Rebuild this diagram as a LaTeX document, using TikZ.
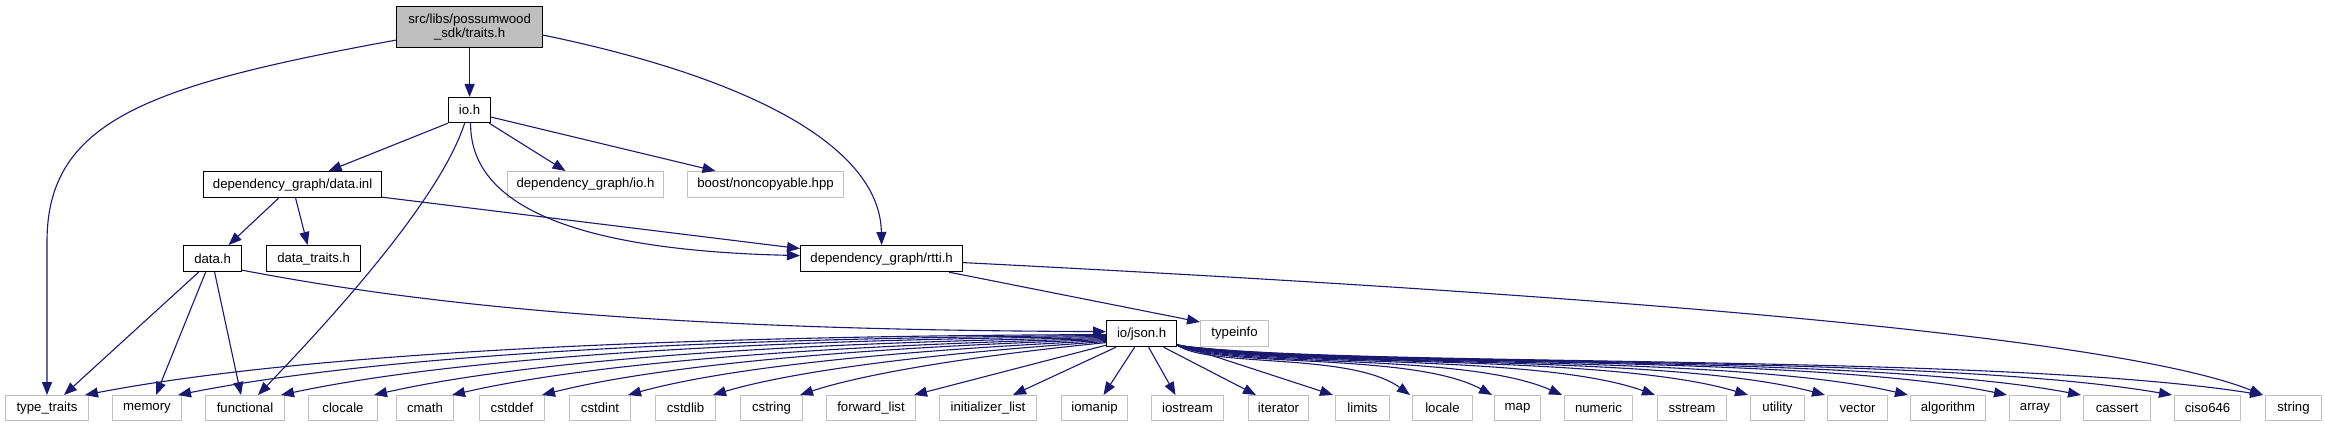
\documentclass[tikz,border=0pt]{standalone}
\usepackage{fontspec}
\setmainfont{Liberation Sans}
\usetikzlibrary{arrows.meta}
\definecolor{edgeblue}{HTML}{191970}
\definecolor{boxgray}{HTML}{BFBFBF}
\begin{document}
\begin{tikzpicture}[x=1pt,y=-1pt,
  base/.style={anchor=north west, inner sep=0pt, minimum height=26pt, font=\fontsize{13.2}{14.5}\selectfont, text=black, align=center},
  kbox/.style={base, draw=black, line width=1.2pt},
  gbox/.style={base, draw=boxgray, line width=1pt},
  bot/.style={gbox, minimum height=25pt},
  dep/.style={draw=edgeblue, line width=1.1pt, -{Triangle[length=13pt,width=10pt]}}]
\fill[white] (0,0) rectangle (2325,427);
\useasboundingbox (0,0) rectangle (2325,427);
% nodes
\node[kbox, fill=boxgray, minimum width=146pt, minimum height=41pt] (traits) at (396,6) {src/libs/possumwood\\\_sdk/traits.h};
\node[kbox, minimum width=42pt, minimum height=25pt] (io) at (448,97) {io.h};
\node[kbox, minimum width=178pt] (datainl) at (203,171) {dependency\_graph/data.inl};
\node[gbox, minimum width=156pt] (dgio) at (507,171) {dependency\_graph/io.h};
\node[gbox, minimum width=156pt] (boost) at (687,171) {boost/noncopyable.hpp};
\node[kbox, minimum width=58pt] (datah) at (183,245) {data.h};
\node[kbox, minimum width=94pt] (datatraits) at (266,245) {data\_traits.h};
\node[kbox, minimum width=162pt] (rtti) at (800,245) {dependency\_graph/rtti.h};
\node[kbox, minimum width=70pt] (json) at (1106,320) {io/json.h};
\node[gbox, minimum width=68pt] (typeinfo) at (1200,320) {typeinfo};
\node[bot, minimum width=83pt] (typetraits) at (5,395) {type\_traits};
\node[bot, minimum width=69pt] (memory) at (112,395) {memory};
\node[bot, minimum width=79pt] (functional) at (205,395) {functional};
\node[bot, minimum width=69pt] (clocale) at (308,395) {clocale};
\node[bot, minimum width=57pt] (cmath) at (396,395) {cmath};
\node[bot, minimum width=65pt] (cstddef) at (479,395) {cstddef};
\node[bot, minimum width=61pt] (cstdint) at (569,395) {cstdint};
\node[bot, minimum width=60pt] (cstdlib) at (655,395) {cstdlib};
\node[bot, minimum width=62pt] (cstring) at (740,395) {cstring};
\node[bot, minimum width=89pt] (forwardlist) at (826,395) {forward\_list};
\node[bot, minimum width=97pt] (initlist) at (939,395) {initializer\_list};
\node[bot, minimum width=66pt] (iomanip) at (1061,395) {iomanip};
\node[bot, minimum width=72pt] (iostream) at (1151,395) {iostream};
\node[bot, minimum width=60pt] (iterator) at (1248,395) {iterator};
\node[bot, minimum width=54pt] (limits) at (1335,395) {limits};
\node[bot, minimum width=60pt] (locale) at (1412,395) {locale};
\node[bot, minimum width=46pt] (map) at (1494,395) {map};
\node[bot, minimum width=68pt] (numeric) at (1564,395) {numeric};
\node[bot, minimum width=69pt] (sstream) at (1657,395) {sstream};
\node[bot, minimum width=54pt] (utility) at (1750,395) {utility};
\node[bot, minimum width=60pt] (vector) at (1827,395) {vector};
\node[bot, minimum width=75pt] (algorithm) at (1910,395) {algorithm};
\node[bot, minimum width=51pt] (array) at (2009,395) {array};
\node[bot, minimum width=67pt] (cassert) at (2083,395) {cassert};
\node[bot, minimum width=66pt] (ciso646) at (2174,395) {ciso646};
\node[bot, minimum width=56pt] (string) at (2265,395) {string};
% upper edges
\draw[dep] ([yshift=-13pt]traits.west) .. controls (150,85) and (48,120) .. (47,240) -- (typetraits.north);
\draw[dep] (traits.south) -- (io.north);
\draw[dep] ([yshift=-8pt]traits.east) .. controls (760,80) and (880,150) .. (rtti.north);
\draw[dep] (io.south west) -- ([xshift=36pt]datainl.north);
\draw[dep] ([xshift=-5pt]io.south) .. controls (440,200) and (330,320) .. ([xshift=13pt]functional.north);
\draw[dep] ([xshift=1pt]io.south) .. controls (470,200) and (560,250) .. ([yshift=3pt]rtti.west);
\draw[dep] ([xshift=-2pt]io.south east) -- ([xshift=-20pt]dgio.north);
\draw[dep] ([yshift=-7pt]io.east) -- ([xshift=-50pt]boost.north);
\draw[dep] ([xshift=-14pt]datainl.south) -- ([xshift=16pt]datah.north);
\draw[dep] ([xshift=3pt]datainl.south) -- ([xshift=-6pt]datatraits.north);
\draw[dep] ([yshift=1pt]datainl.south east) -- ([yshift=10pt]rtti.west);
\draw[dep] ([xshift=-14pt]datah.south) -- ([xshift=17pt]typetraits.north);
\draw[dep] ([xshift=-7pt]datah.south) -- ([xshift=9pt]memory.north);
\draw[dep] ([xshift=2pt]datah.south) -- ([xshift=-4pt]functional.north);
\draw[dep] ([yshift=2pt]datah.south east) .. controls (450,310) and (700,330) .. ([yshift=2pt]json.west);
\draw[dep] ([xshift=-14pt]rtti.south east) -- ([yshift=-2pt]typeinfo.north west);
\draw[dep] ([yshift=-4pt]rtti.east) .. controls (1500,290) and (2100,330) .. ([xshift=-2pt]string.north west);
% json fan, left
\draw[dep] ([yshift=-1pt]json.west) .. controls (629,336) and (288,356) .. ([xshift=-4pt]typetraits.north east);
\draw[dep] ([yshift=-2pt]json.west) .. controls (672,338) and (363,358) .. ([xshift=-4pt]memory.north east);
\draw[dep] ([yshift=-3pt]json.west) .. controls (720,340) and (445,360) .. ([xshift=-4pt]functional.north east);
\draw[dep] ([yshift=-4pt]json.west) .. controls (764,343) and (520,362) .. ([xshift=-4pt]clocale.north east);
\draw[dep] ([yshift=-5pt]json.west) .. controls (800,346) and (582,365) .. ([xshift=-2pt]cmath.north east);
\draw[dep] ([yshift=-6pt]json.west) .. controls (842,348) and (653,367) .. ([xshift=-3pt]cstddef.north east);
\draw[dep] ([yshift=-7pt]json.west) .. controls (882,351) and (722,369) .. ([xshift=-3pt]cstdint.north east);
\draw[dep] ([yshift=-8pt]json.west) .. controls (922,354) and (790,372) .. ([xshift=-3pt]cstdlib.north east);
\draw[dep] ([yshift=-9pt]json.west) .. controls (962,357) and (860,375) .. ([xshift=-3pt]cstring.north east);
\draw[dep] ([yshift=2pt]json.south west) -- ([xshift=-2pt]forwardlist.north east);
\draw[dep] ([xshift=10pt]json.south west) -- ([xshift=25pt]initlist.north);
\draw[dep] ([xshift=-7pt]json.south) -- ([xshift=9pt]iomanip.north);
\draw[dep] ([xshift=7pt]json.south) -- ([xshift=-12pt]iostream.north);
\draw[dep] ([xshift=22pt]json.south) -- ([xshift=8pt]iterator.north west);
\draw[dep] ([yshift=3pt]json.south east) -- ([xshift=-2pt]limits.north west);
% json fan, right
\draw[dep] ([yshift=2pt]json.south east) .. controls (1211,368) and (1351,352) .. ([xshift=-2pt]locale.north west);
\draw[dep] ([yshift=2pt]json.south east) .. controls (1223,368) and (1413,352) .. ([xshift=-2pt]map.north west);
\draw[dep] ([yshift=2pt]json.south east) .. controls (1234,368) and (1465,352) .. ([xshift=-2pt]numeric.north west);
\draw[dep] ([yshift=2pt]json.south east) .. controls (1248,368) and (1535,352) .. ([xshift=-2pt]sstream.north west);
\draw[dep] ([yshift=2pt]json.south east) .. controls (1262,368) and (1605,352) .. ([xshift=-2pt]utility.north west);
\draw[dep] ([yshift=2pt]json.south east) .. controls (1273,368) and (1663,352) .. ([xshift=-2pt]vector.north west);
\draw[dep] ([yshift=2pt]json.south east) .. controls (1286,368) and (1725,352) .. ([xshift=-2pt]algorithm.north west);
\draw[dep] ([yshift=2pt]json.south east) .. controls (1301,368) and (1799,352) .. ([xshift=-2pt]array.north west);
\draw[dep] ([yshift=2pt]json.south east) .. controls (1312,368) and (1855,352) .. ([xshift=-2pt]cassert.north west);
\draw[dep] ([yshift=2pt]json.south east) .. controls (1325,368) and (1923,352) .. ([xshift=-2pt]ciso646.north west);
\draw[dep] ([yshift=2pt]json.south east) .. controls (1339,368) and (1991,352) .. ([xshift=-2pt]string.north west);
\end{tikzpicture}
\end{document}
